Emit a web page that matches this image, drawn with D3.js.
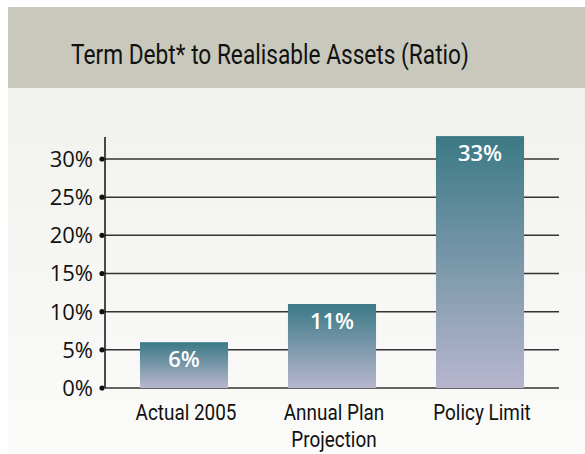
<!DOCTYPE html>
<meta charset="utf-8">
<style>
    body { margin: 0; background: #fff; }
    .tick-label { font-family: "Open Sans", sans-serif; font-size: 22px; fill: #111; }
    .cat-label { font-family: Roboto, sans-serif; font-size: 22px; fill: #111; }
    .val-label { font-family: "Open Sans", sans-serif; font-size: 22px; font-weight: 600; fill: #fff; }
    .title { font-family: Roboto, sans-serif; font-size: 27px; fill: #111; }
</style>
<svg width="585" height="454"></svg>
<script src="https://d3js.org/d3.v7.min.js"></script>
<script>

    var categories = [["Actual 2005"], ["Annual Plan", "Projection"], ["Policy Limit"]];
    var values = [6, 11, 33];
    var valueLabels = ["6%", "11%", "33%"];
    var tickValues = [0, 5, 10, 15, 20, 25, 30];

    var svg = d3.select("svg");

    var defs = svg.append("defs");
    var bg = defs.append("linearGradient").attr("id", "bg")
        .attr("x1", 0).attr("y1", 0).attr("x2", 0).attr("y2", 1);
    bg.append("stop").attr("offset", "0%").attr("stop-color", "#f1f1ed");
    bg.append("stop").attr("offset", "100%").attr("stop-color", "#fbfbfa");

    var barGrad = defs.append("linearGradient").attr("id", "bar")
        .attr("x1", 0).attr("y1", 0).attr("x2", 0).attr("y2", 1);
    barGrad.append("stop").attr("offset", "0%").attr("stop-color", "#3b7985");
    barGrad.append("stop").attr("offset", "100%").attr("stop-color", "#b8b6cf");

    // panel background
    svg.append("rect").attr("x", 8).attr("y", 88).attr("width", 577).attr("height", 366)
        .attr("fill", "url(#bg)");
    svg.append("rect").attr("x", 8).attr("y", 7).attr("width", 577).attr("height", 81)
        .attr("fill", "#c8c9bc");
    svg.append("text").attr("class", "title")
        .attr("transform", "translate(270,64) scale(0.84,1)")
        .attr("text-anchor", "middle")
        .text("Term Debt* to Realisable Assets (Ratio)");

    var y = d3.scaleLinear().domain([0, 30]).range([388, 159]);

    var x = d3.scaleBand()
        .domain(d3.range(values.length))
        .range([110, 554])
        .paddingInner(0.405)
        .paddingOuter(0.2025);

    // gridlines
    svg.append("g").selectAll("line").data(tickValues).join("line")
        .attr("x1", 105).attr("x2", 559)
        .attr("y1", function(d) { return y(d); })
        .attr("y2", function(d) { return y(d); })
        .attr("stroke", "#333").attr("stroke-width", 1.5);

    // axis
    svg.append("line").attr("x1", 105).attr("x2", 105).attr("y1", 137).attr("y2", y(0))
        .attr("stroke", "#111").attr("stroke-width", 1.5);

    svg.append("g").selectAll("circle").data(tickValues).join("circle")
        .attr("cx", 102).attr("cy", function(d) { return y(d); }).attr("r", 2.6)
        .attr("fill", "#111");

    svg.append("g").selectAll("text").data(tickValues).join("text")
        .attr("class", "tick-label")
        .attr("x", 93).attr("y", function(d) { return y(d); })
        .attr("dy", "0.36em").attr("text-anchor", "end")
        .text(function(d) { return d + "%"; });

    // bars
    svg.append("g").selectAll("rect").data(values).join("rect")
        .attr("x", function(d, i) { return x(i); })
        .attr("y", function(d) { return y(d); })
        .attr("width", x.bandwidth())
        .attr("height", function(d) { return y(0) - y(d); })
        .attr("fill", "url(#bar)");

    svg.append("g").selectAll("text").data(values).join("text")
        .attr("class", "val-label")
        .attr("x", function(d, i) { return x(i) + x.bandwidth() / 2; })
        .attr("y", function(d) { return y(d) + 25; })
        .attr("text-anchor", "middle")
        .text(function(d, i) { return valueLabels[i]; });

    // category labels
    var cats = svg.append("g").selectAll("text").data(categories).join("text")
        .attr("class", "cat-label")
        .attr("text-anchor", "middle")
        .attr("transform", function(d, i) {
            return "translate(" + (x(i) + x.bandwidth() / 2 + 2) + ",420) scale(0.86,1)";
        });
    cats.selectAll("tspan").data(function(d) { return d; }).join("tspan")
        .attr("x", 0)
        .attr("dy", function(d, j) { return j ? 27 : 0; })
        .text(function(d) { return d; });

</script>
